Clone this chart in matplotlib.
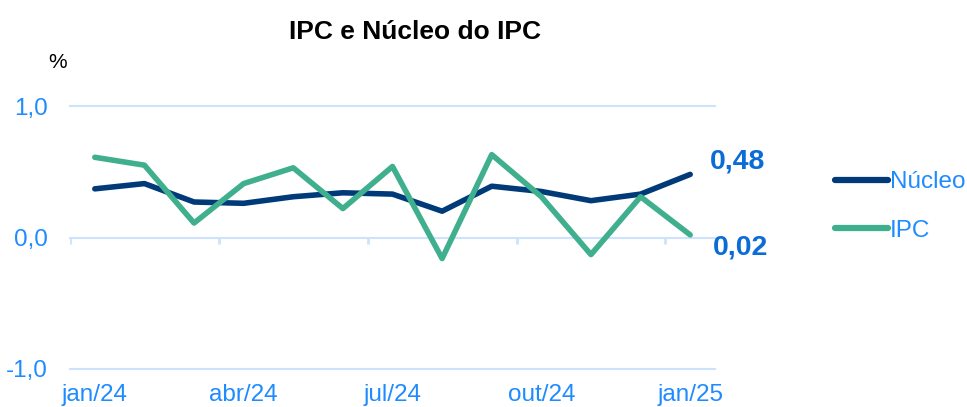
import matplotlib
matplotlib.use("Agg")
import matplotlib.pyplot as plt
from matplotlib.ticker import FuncFormatter
import numpy as np

plt.rcParams['font.family'] = ['Liberation Sans', 'DejaVu Sans']

# dados mensais (% a.m.)
meses = ['jan/24', 'fev/24', 'mar/24', 'abr/24', 'mai/24', 'jun/24', 'jul/24',
         'ago/24', 'set/24', 'out/24', 'nov/24', 'dez/24', 'jan/25']
nucleo = [0.37, 0.41, 0.27, 0.26, 0.31, 0.34, 0.33, 0.20, 0.39, 0.35, 0.28, 0.33, 0.48]
ipc = [0.61, 0.55, 0.11, 0.41, 0.53, 0.22, 0.54, -0.16, 0.63, 0.31, -0.13, 0.31, 0.02]

COR_NUCLEO = '#003A78'
COR_IPC = '#3FAF8E'
COR_TICK = '#1E8BFF'
COR_ANOT = '#0A6CD6'
COR_GRADE = '#CDE3FB'

fig = plt.figure(figsize=(9.67, 4.07), dpi=100)
ax = fig.add_axes([70/967, 38/407, 645/967, 263/407])

x = np.arange(len(meses))
ax.plot(x, nucleo, color=COR_NUCLEO, lw=4, solid_capstyle='round', label='Núcleo', zorder=3)
ax.plot(x, ipc, color=COR_IPC, lw=4, solid_capstyle='round', label='IPC', zorder=3)

ax.set_xlim(-0.5, len(meses) - 0.5)
ax.set_ylim(-1.0, 1.0)

# grade horizontal
for yv in [-1.0, 0.0, 1.0]:
    ax.axhline(yv, color=COR_GRADE, lw=1.5, zorder=1, clip_on=False)

# marcas do eixo x sobre a linha do zero (a cada trimestre)
bordas = np.arange(-0.5, len(meses) - 0.5, 3)
ax.vlines(bordas, -0.05, 0, color=COR_GRADE, lw=2, zorder=1)

for s in ax.spines.values():
    s.set_visible(False)

ax.set_yticks([-1.0, 0.0, 1.0])
ax.yaxis.set_major_formatter(FuncFormatter(lambda v, p: f"{v:.1f}".replace('.', ',')))
ax.set_xticks(x[::3])
ax.set_xticklabels(meses[::3])
ax.tick_params(axis='both', length=0, labelsize=17.5, labelcolor=COR_TICK)
ax.tick_params(axis='x', pad=11)
ax.tick_params(axis='y', pad=16)

fig.text(415/967, 1 - 32/407, 'IPC e Núcleo do IPC', ha='center', va='center',
         fontsize=19, fontweight='bold')
fig.text(58/967, 1 - 63/407, '%', ha='center', va='center', fontsize=15)

# rótulos do último valor
ax.annotate(f"{nucleo[-1]:.2f}".replace('.', ','), (x[-1], nucleo[-1]),
            xytext=(14, 9), textcoords='offset points', ha='left', va='center',
            fontsize=20.5, fontweight='bold', color=COR_ANOT)
ax.annotate(f"{ipc[-1]:.2f}".replace('.', ','), (x[-1], ipc[-1]),
            xytext=(16, -9), textcoords='offset points', ha='left', va='center',
            fontsize=20.5, fontweight='bold', color=COR_ANOT)

leg = fig.legend(loc='upper left', bbox_to_anchor=(835/967, 1 - 171/407), frameon=False,
                 fontsize=17.5, labelcolor=COR_TICK, handlelength=2.2, handletextpad=0.05,
                 labelspacing=1.1, borderpad=0, borderaxespad=0)
for h in leg.get_lines():
    h.set_linewidth(4.5)

fig.savefig('out.png', dpi=100)
